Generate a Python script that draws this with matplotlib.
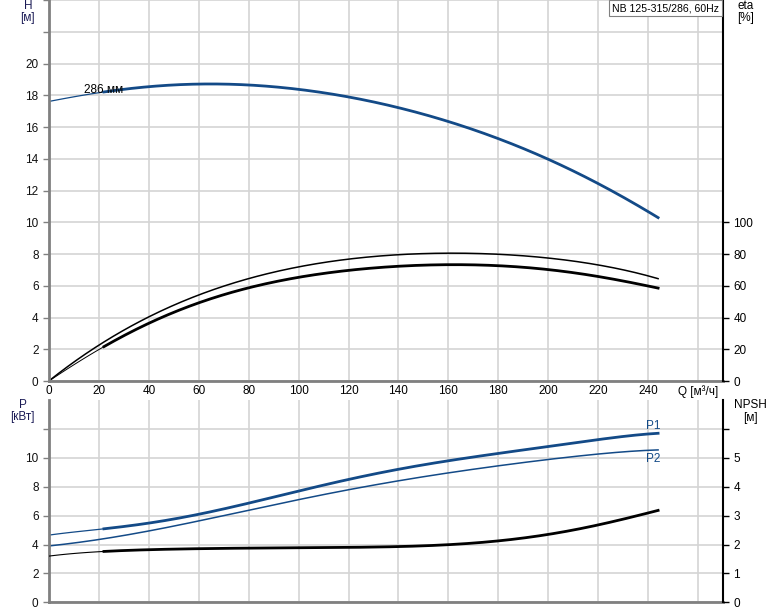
import matplotlib.pyplot as plt
import numpy as np
from numpy.polynomial import polynomial as Pn

plt.rcParams["font.family"] = ["Liberation Sans", "DejaVu Sans"]

Q_PTS = [0, 20, 40, 60, 80, 100, 120, 140, 160, 180, 200, 220, 244]
H = [17.6, 18.2, 18.5, 18.7, 18.65, 18.4, 17.9, 17.2, 16.3, 15.3, 14.0, 12.4, 10.3]
ETA_UPPER = [0, 23, 40, 54, 65, 72, 76.5, 79.5, 80.5, 80, 77.5, 73, 64.5]
ETA_LOWER = [0, 20, 36, 49.5, 59, 65, 69.5, 72.5, 73.5, 72.5, 70, 66, 58.5]
P1 = [4.65, 5.05, 5.5, 6.05, 6.9, 7.7, 8.5, 9.2, 9.8, 10.3, 10.8, 11.25, 11.7]
P2 = [3.9, 4.35, 4.95, 5.6, 6.4, 7.1, 7.8, 8.4, 8.95, 9.45, 9.9, 10.25, 10.55]
NPSH = [1.6, 1.75, 1.82, 1.86, 1.875, 1.885, 1.9, 1.93, 2.0, 2.12, 2.35, 2.68, 3.18]

X_TICKS = list(range(0, 261, 20))
X_LABELS = [str(v) for v in range(0, 241, 20)] + ["Q [м³/ч]"]
TITLE = "NB 125-315/286, 60Hz"
Q_START = 22  # where the thick part of the curves starts

BLUE = "#134a87"
GRID = "#d4d4d4"
GRAY = "#808080"
FS = 8.5


def curve(ax, ys, color, lw_thick, lw_thin=0.8, thin_all=False):
    xx = np.linspace(0, Q_PTS[-1], 400)
    c = Pn.polyfit(Q_PTS, ys, 6)
    yy = Pn.polyval(xx, c)
    if thin_all:
        ax.plot(xx, yy, color=color, lw=lw_thick)
        return
    m = xx <= Q_START
    ax.plot(xx[m], yy[m], color=color, lw=lw_thin)
    ax.plot(xx[xx >= Q_START], yy[xx >= Q_START], color=color, lw=lw_thick)


def style(ax, right):
    ax.set_xlim(0, 270)
    ax.set_xticks(X_TICKS)
    ax.grid(True, color=GRID, lw=1.2)
    ax.set_axisbelow(True)
    ax.spines["top"].set_visible(False)
    ax.spines["left"].set_color(GRAY)
    ax.spines["left"].set_linewidth(2)
    ax.spines["bottom"].set_color(GRAY)
    ax.spines["bottom"].set_linewidth(2)
    ax.spines["right"].set_visible(False)
    ax.tick_params(axis="y", colors=GRAY, labelcolor="#111111", labelsize=FS, length=4, width=1)
    right.spines["right"].set_color("black")
    right.spines["right"].set_linewidth(1.5)
    for s in ["top", "left", "bottom"]:
        right.spines[s].set_visible(False)
    right.tick_params(axis="y", colors="black", labelsize=FS, length=4, width=1)


fig = plt.figure(figsize=(7.74, 6.11), dpi=100)

# top chart: head and efficiency
ax1 = fig.add_axes([0.0633, 0.3764, 0.8708, 0.6236])
ax1r = ax1.twinx()
style(ax1, ax1r)
ax1.set_ylim(0, 24)
ax1.set_yticks(range(0, 25, 2))
ax1.set_yticklabels([str(v) if v <= 20 else "" for v in range(0, 25, 2)])
ax1r.set_ylim(0, 240)
ax1r.set_yticks(range(0, 101, 20))
ax1.set_xticklabels(X_LABELS)
ax1.tick_params(axis="x", labelsize=FS, length=0, pad=3)

curve(ax1, H, BLUE, 2.0, lw_thin=0.9)
curve(ax1, [v / 10 for v in ETA_UPPER], "black", 1.1, thin_all=True)
curve(ax1, [v / 10 for v in ETA_LOWER], "black", 2.0, lw_thin=0.7)
ax1.text(14, 18.35, "286 мм", fontsize=FS, ha="left", va="center")

fig.text(0.929, 0.995, TITLE, ha="right", va="top", fontsize=7.6,
         bbox=dict(boxstyle="square,pad=0.3", fc="white", ec=GRAY, lw=0.8))
fig.text(0.036, 0.99, "H", ha="center", va="center", fontsize=FS, color="#1a1a55")
fig.text(0.036, 0.97, "[м]", ha="center", va="center", fontsize=FS, color="#1a1a55")
fig.text(0.963, 0.99, "eta", ha="center", va="center", fontsize=FS)
fig.text(0.963, 0.97, "[%]", ha="center", va="center", fontsize=FS)

# bottom chart: power and NPSH
ax2 = fig.add_axes([0.0633, 0.0142, 0.8708, 0.3311])
ax2r = ax2.twinx()
style(ax2, ax2r)
ax2.set_ylim(0, 14)
ax2.set_yticks(range(0, 13, 2))
ax2.set_yticklabels([str(v) if v <= 10 else "" for v in range(0, 13, 2)])
ax2r.set_ylim(0, 7)
ax2r.set_yticks(range(0, 7))
ax2r.set_yticklabels([str(v) if v <= 5 else "" for v in range(0, 7)])
ax2.tick_params(axis="x", labelbottom=False, length=0)

curve(ax2, P1, BLUE, 2.0, lw_thin=0.9)
curve(ax2, P2, BLUE, 1.1, thin_all=True)
curve(ax2r, NPSH, "black", 2.0, lw_thin=0.8)
ax2.text(242, 12.2, "P1", fontsize=FS, color=BLUE, ha="center", va="center")
ax2.text(242, 9.9, "P2", fontsize=FS, color=BLUE, ha="center", va="center")

fig.text(0.029, 0.337, "P", ha="center", va="center", fontsize=FS, color="#1a1a55")
fig.text(0.029, 0.318, "[кВт]", ha="center", va="center", fontsize=FS, color="#1a1a55")
fig.text(0.969, 0.337, "NPSH", ha="center", va="center", fontsize=FS)
fig.text(0.969, 0.316, "[м]", ha="center", va="center", fontsize=FS)

fig.savefig("out.png", dpi=100)
